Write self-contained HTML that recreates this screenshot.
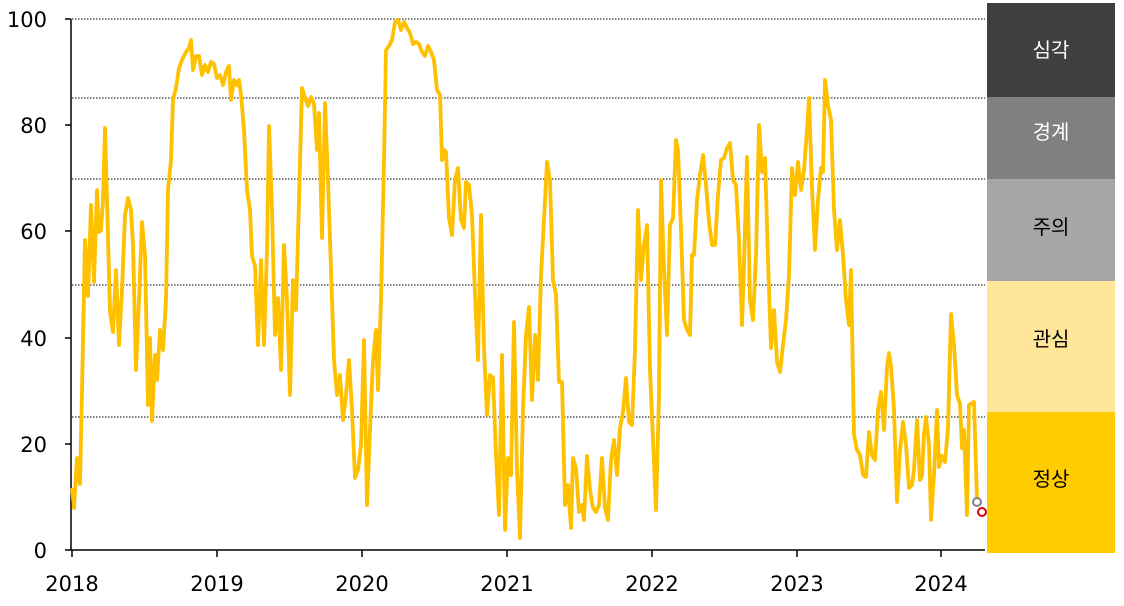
<!DOCTYPE html>
<html><head><meta charset="utf-8"><style>
html,body{margin:0;padding:0;background:#fff;}
body{width:1124px;height:601px;overflow:hidden;}
</style></head><body>
<svg width="1124" height="601" xmlns="http://www.w3.org/2000/svg" font-family="DejaVu Sans, Noto Sans CJK KR, sans-serif">
<rect x="987" y="3" width="128" height="94" fill="#404040"/>
<rect x="987" y="97" width="128" height="82" fill="#808080"/>
<rect x="987" y="179" width="128" height="102" fill="#A6A6A6"/>
<rect x="987" y="281" width="128" height="131" fill="#FFE699"/>
<rect x="987" y="412" width="128" height="141" fill="#FFCC00"/>
<g font-size="20" text-anchor="middle" font-family="Noto Sans CJK KR, sans-serif">
<text x="1051" y="57" fill="#fff">심각</text>
<text x="1051" y="139" fill="#fff">경계</text>
<text x="1051" y="234" fill="#000">주의</text>
<text x="1051" y="346" fill="#000">관심</text>
<text x="1051" y="486" fill="#000">정상</text>
</g>
<g stroke="#000" stroke-width="1" stroke-dasharray="1.5,1.5">
<line x1="72" y1="19" x2="985" y2="19"/>
<line x1="72" y1="98" x2="985" y2="98"/>
<line x1="72" y1="179" x2="985" y2="179"/>
<line x1="72" y1="285" x2="985" y2="285"/>
<line x1="72" y1="417" x2="985" y2="417"/>
</g>
<g stroke="#000" stroke-width="1.5">
<line x1="71" y1="19" x2="71" y2="550"/>
<line x1="71" y1="550" x2="985" y2="550"/>
<line x1="65" y1="19" x2="71" y2="19"/>
<line x1="65" y1="125" x2="71" y2="125"/>
<line x1="65" y1="231" x2="71" y2="231"/>
<line x1="65" y1="338" x2="71" y2="338"/>
<line x1="65" y1="444" x2="71" y2="444"/>
<line x1="65" y1="550" x2="71" y2="550"/>
<line x1="72" y1="550" x2="72" y2="557"/>
<line x1="217" y1="550" x2="217" y2="557"/>
<line x1="362" y1="550" x2="362" y2="557"/>
<line x1="507" y1="550" x2="507" y2="557"/>
<line x1="652" y1="550" x2="652" y2="557"/>
<line x1="797" y1="550" x2="797" y2="557"/>
<line x1="941" y1="550" x2="941" y2="557"/>
</g>
<g font-size="21" text-anchor="end" fill="#000">
<text x="47" y="27">100</text>
<text x="47" y="133">80</text>
<text x="47" y="239">60</text>
<text x="47" y="346">40</text>
<text x="47" y="452">20</text>
<text x="47" y="558">0</text>
</g>
<g font-size="21" text-anchor="middle" fill="#000">
<text x="72" y="591">2018</text>
<text x="217" y="591">2019</text>
<text x="362" y="591">2020</text>
<text x="507" y="591">2021</text>
<text x="652" y="591">2022</text>
<text x="797" y="591">2023</text>
<text x="941" y="591">2024</text>
</g>
<polyline fill="none" stroke="#FFC000" stroke-width="3.8" stroke-linejoin="round" points="72,488 74,508 77,458 80,484 82,390 85,240 88,296 91,205 94,282 97,190 99,232 101,230 103,200 105,128 107,200 110,312 113,332 116,270 119,345 122,290 125,215 128,198 131,210 133,245 136,370 139,300 142,222 145,255 148,405 150,338 152,421 155,355 157,380 160,330 163,350 166,300 168,190 171,160 173,100 176,88 179,68 182,60 186,52 189,48 191,40 193,70 196,56 199,56 202,75 205,65 208,72 211,62 214,64 217,78 220,75 223,85 226,72 229,66 231,100 234,80 237,85 239,80 241,95 244,130 247,190 250,210 252,256 255,266 258,345 261,260 264,345 267,250 269,126 272,210 275,335 278,298 281,370 284,245 287,300 290,395 293,280 296,310 299,200 302,88 305,98 308,106 311,97 314,104 317,150 319,113 322,238 325,103 328,180 331,270 334,360 337,395 340,375 343,420 346,395 349,360 352,410 355,478 358,470 361,445 364,340 367,505 370,430 373,360 376,330 378,390 381,300 384,160 386,50 389,46 392,40 395,22 398,20 401,30 404,22 407,28 410,33 413,44 416,42 419,44 422,52 425,56 428,46 431,52 434,60 437,90 440,95 442,160 444,150 446,152 449,218 452,235 455,180 458,168 461,220 464,228 466,182 469,185 472,215 475,295 478,360 481,215 484,348 487,415 490,375 493,378 496,455 499,515 502,355 505,530 508,458 511,475 514,322 517,470 520,538 523,410 526,335 529,307 532,400 535,335 538,380 541,275 544,220 547,162 550,180 553,280 556,295 559,382 562,382 565,505 568,485 571,528 573,458 576,468 579,512 582,505 584,520 587,456 590,490 593,508 596,512 599,505 602,458 605,508 608,520 611,460 614,440 617,475 620,428 623,412 626,378 629,422 632,425 635,350 638,210 641,280 644,245 647,225 650,370 653,440 656,510 659,395 661,180 664,270 667,335 670,225 673,218 676,140 678,150 681,230 684,320 687,330 690,335 692,255 694,255 697,200 700,175 703,155 706,185 709,222 712,245 715,245 718,195 721,160 724,158 727,148 730,143 733,180 736,185 739,240 742,325 744,265 747,157 750,300 753,320 756,255 759,125 762,172 765,158 768,260 771,348 774,310 777,362 780,372 783,345 786,320 789,275 792,168 795,195 798,162 801,190 804,170 807,130 809,98 812,188 815,250 818,200 821,168 823,172 825,80 828,105 831,120 834,210 837,250 840,220 843,255 846,300 849,325 851,270 854,435 857,450 860,455 863,475 866,477 869,432 872,455 875,460 878,410 881,392 884,430 887,367 889,353 891,366 894,410 897,502 900,450 903,422 906,445 909,488 912,485 914,470 917,420 920,480 922,475 924,434 926,417 929,445 931,520 934,475 937,410 939,467 942,456 945,462 948,428 951,314 954,345 957,395 960,404 962,448 964,430 967,515 969,405 972,403 974,402 977,500"/>
<circle cx="977" cy="502" r="4" fill="#fff" stroke="#808080" stroke-width="2"/>
<circle cx="982" cy="512" r="4" fill="#fff" stroke="#E00000" stroke-width="2"/>
</svg>
</body></html>
